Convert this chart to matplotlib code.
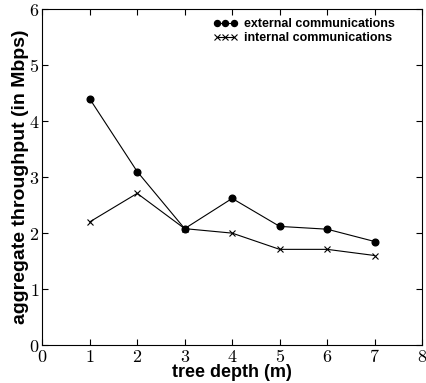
import numpy as np
import matplotlib.pyplot as plt
from matplotlib.ticker import FuncFormatter

plt.rcParams['mathtext.fontset'] = 'cm'

depth = [1, 2, 3, 4, 5, 6, 7]
external = [4.4, 3.1, 2.08, 2.62, 2.12, 2.07, 1.85]
internal = [2.2, 2.71, 2.08, 2.0, 1.71, 1.71, 1.6]

fig = plt.figure(figsize=(4.26, 3.83), dpi=100)
ax = fig.add_axes([0.099, 0.099, 0.892, 0.877])

ax.plot(depth, external, color='black', lw=0.8, marker='o', ms=4.8,
        label='external communications')
ax.plot(depth, internal, color='black', lw=0.8, marker='x', ms=4.5, mew=0.8,
        label='internal communications')

ax.set_xlim(0, 8)
ax.set_ylim(0, 6)
ax.set_xticks(range(0, 9))
ax.set_yticks(range(0, 7))
fmt = FuncFormatter(lambda v, p: r'$%d$' % v)
ax.xaxis.set_major_formatter(fmt)
ax.yaxis.set_major_formatter(fmt)
ax.tick_params(direction='in', top=True, right=True, labelsize=13, length=4.5, pad=2)

ax.set_xlabel('tree depth (m)', labelpad=-1, family='Liberation Sans',
              weight='bold', size=13)
ax.set_ylabel('aggregate throughput (in Mbps)', labelpad=0, family='Liberation Sans',
              weight='bold', size=14)

ax.legend(loc='upper left', bbox_to_anchor=(0.426, 1), numpoints=3, frameon=False,
          handlelength=2.0, handletextpad=0.5, labelspacing=0.2, borderaxespad=0.3,
          markerscale=0.9,
          prop=dict(family='Liberation Sans', weight='bold', size=9))

fig.savefig('out.png', dpi=100)
